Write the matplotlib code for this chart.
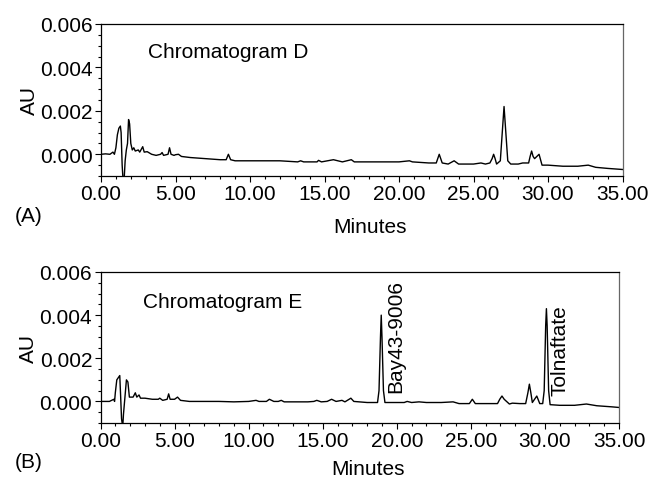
import matplotlib
matplotlib.use("Agg")
import matplotlib.pyplot as plt
from matplotlib.ticker import MultipleLocator, FormatStrFormatter

plt.rcParams['font.family'] = ['Liberation Sans', 'DejaVu Sans']

# Chromatogram D (traced vertices: minutes, AU)
d_time = [0.0, 0.3, 0.6, 0.8, 0.9, 1.0, 1.1, 1.2, 1.3, 1.35, 1.42, 1.48, 1.55, 1.62, 1.7,
          1.78, 1.85, 1.92, 2.0, 2.1, 2.2, 2.3, 2.5, 2.6, 2.8, 2.9, 3.1, 3.4, 3.7, 4.0,
          4.1, 4.2, 4.5, 4.6, 4.7, 4.9, 5.0, 5.2, 5.4, 6.0, 7.0, 8.0, 8.4, 8.55, 8.7,
          9.0, 10.0, 11.0, 12.0, 13.2, 13.4, 13.6, 14.5, 14.6, 14.8, 15.2, 15.6, 15.9,
          16.2, 16.8, 17.0, 18.0, 19.0, 20.0, 20.7, 20.9, 22.0, 22.5, 22.6, 22.7, 22.8,
          22.9, 23.3, 23.7, 24.0, 25.0, 25.5, 25.8, 26.1, 26.25, 26.35, 26.45, 26.55,
          26.8, 26.95, 27.05, 27.15, 27.3, 27.5, 28.0, 28.3, 28.7, 28.8, 28.9, 29.0,
          29.1, 29.25, 29.4, 29.6, 30.0, 31.0, 32.0, 32.7, 33.2, 34.0, 35.0]
d_au = [0.0, 0.00002, 0.0, 0.0001, 0.0, 0.0003, 0.0009, 0.0012, 0.0013, 0.0010, -0.0005,
        -0.0012, -0.0012, -0.0003, 0.0002, 0.0005, 0.0016, 0.0014, 0.0005, 0.0002, 0.0003,
        0.00015, 0.0002, 0.0001, 0.00035, 0.0001, 0.00012, 0.0, -0.00005, 0.0, 0.00008,
        -0.00005, 0.0, 0.0003, 0.0, -0.00005, -0.00002, 0.0, -0.0001, -0.00015, -0.0002,
        -0.00025, -0.00025, 0.0, -0.00025, -0.0003, -0.0003, -0.0003, -0.0003, -0.00035,
        -0.0003, -0.00035, -0.00035, -0.00028, -0.00035, -0.0003, -0.00025, -0.0003,
        -0.00035, -0.00025, -0.00035, -0.00035, -0.00035, -0.00035, -0.0003, -0.00035,
        -0.0004, -0.0004, -0.0002, 0.0, -0.0002, -0.0004, -0.00045, -0.0003, -0.00045,
        -0.00045, -0.0004, -0.00045, -0.0004, -0.0002, 0.0, -0.0002, -0.00045, -0.0003,
        0.0012, 0.0022, 0.0012, -0.0003, -0.00045, -0.00045, -0.0004, -0.0004, -0.0001,
        0.00015, -0.0001, -0.0002, -0.0001, 0.0, -0.0005, -0.0005, -0.00055, -0.00055,
        -0.0005, -0.0006, -0.00065, -0.0007]

# Chromatogram E (traced vertices: minutes, AU)
e_time = [0.0, 0.6, 0.9, 0.95, 1.0, 1.1, 1.2, 1.3, 1.35, 1.42, 1.5, 1.55, 1.65, 1.75, 1.85,
          1.95, 2.1, 2.2, 2.35, 2.45, 2.6, 2.7, 3.0, 3.5, 3.9, 4.0, 4.2, 4.5, 4.6, 4.7, 5.0,
          5.2, 5.4, 6.0, 7.0, 8.0, 9.0, 10.0, 10.5, 10.7, 11.2, 11.4, 11.7, 12.0, 12.2,
          12.4, 14.0, 14.4, 14.6, 14.9, 15.3, 15.6, 15.9, 16.3, 16.5, 16.9, 17.1, 18.0,
          18.7, 18.8, 18.9, 18.95, 19.0, 19.1, 19.2, 19.5, 20.5, 20.7, 21.0, 21.5, 22.0,
          23.0, 23.8, 24.2, 24.9, 25.1, 25.3, 25.8, 26.2, 26.8, 26.95, 27.1, 27.25, 27.6,
          27.8, 28.3, 28.7, 28.85, 28.95, 29.05, 29.15, 29.45, 29.65, 29.85, 29.95, 30.05,
          30.1, 30.15, 30.25, 30.35, 31.0, 32.0, 32.8, 33.5, 34.5, 35.0]
e_au = [0.0, 0.0, 0.0001, 0.0, 0.0004, 0.0010, 0.0011, 0.0012, 0.0004, -0.0008, -0.0012,
        -0.0006, 0.0002, 0.0010, 0.0009, 0.0002, 0.0002, 0.0002, 0.0004, 0.0002, 0.0003,
        0.00015, 0.00015, 0.0001, 0.0001, 0.00015, 0.00005, 0.0001, 0.00035, 0.0001,
        0.0001, 0.0002, 0.00005, 0.0, 0.0, 0.0, -0.00002, 0.0, 0.00005, 0.0, 0.0, 0.0001,
        0.0, 0.0, 0.00005, -0.00002, -0.00002, 0.0, 0.00005, -0.00002, 0.0, 0.0001, 0.0,
        0.00005, -0.00002, 0.00015, 0.0, -0.00005, -0.00005, 0.0005, 0.003, 0.0040, 0.003,
        0.0005, -0.00005, -0.00005, -0.00005, 0.0, -0.00005, -0.00002, -0.00005, -0.00005,
        -0.00002, -0.0001, -0.0001, 0.0001, -0.0001, -0.0001, -0.0001, -0.0001, 0.0001,
        0.00025, 0.0001, -0.00012, -0.00008, -0.0001, -0.0001, 0.0004, 0.0008, 0.0004,
        -0.00005, 0.00025, -0.0001, -0.0001, 0.0005, 0.0035, 0.0043, 0.0035, 0.0005,
        -0.00015, -0.00018, -0.00018, -0.00012, -0.0002, -0.00025, -0.00028]

panel_titles = ["Chromatogram D", "Chromatogram E"]
panel_letters = ["(A)", "(B)"]
peak_names = ["Bay43-9006", "Tolnaftate"]
peak_label_x = [19.9, 31.05]
peak_label_y = [0.00045, 0.00028]

W, H = 652, 481
fig = plt.figure(figsize=(W / 100, H / 100), dpi=100)

def px_axes(l, r, t, b):
    return fig.add_axes([l / W, 1 - b / H, (r - l) / W, (b - t) / H])

ax1 = px_axes(101, 622.5, 25, 177)
ax2 = px_axes(100.5, 619, 273, 424)

FS = 15
for ax, t, y in [(ax1, d_time, d_au), (ax2, e_time, e_au)]:
    ax.plot(t, y, color='black', lw=1.0)
    ax.set_xlim(0, 35)
    ax.set_ylim(-0.001, 0.006)
    ax.xaxis.set_major_locator(MultipleLocator(5))
    ax.xaxis.set_minor_locator(MultipleLocator(1))
    ax.yaxis.set_major_locator(MultipleLocator(0.002))
    ax.yaxis.set_minor_locator(MultipleLocator(0.0005))
    ax.xaxis.set_major_formatter(FormatStrFormatter('%.2f'))
    ax.yaxis.set_major_formatter(FormatStrFormatter('%.3f'))
    ax.tick_params(which='major', direction='out', length=4, width=0.8, labelsize=FS, pad=2)
    ax.tick_params(which='minor', direction='out', length=2.5, width=0.8)
    for s in ax.spines.values():
        s.set_linewidth(0.9)
    ax.spines['right'].set_color('#666666')
    ax.set_ylabel('AU', fontsize=FS, labelpad=1)

fig.text(148 / W, 1 - 52 / H, panel_titles[0], fontsize=FS, va='center', ha='left')
fig.text(143 / W, 1 - 303 / H, panel_titles[1], fontsize=FS, va='center', ha='left')
fig.text(370 / W, 1 - 228 / H, 'Minutes', fontsize=FS, va='center', ha='center')
fig.text(368 / W, 1 - 470 / H, 'Minutes', fontsize=FS, va='center', ha='center')
fig.text(15 / W, 1 - 217 / H, panel_letters[0], fontsize=FS, va='center', ha='left')
fig.text(15 / W, 1 - 462 / H, panel_letters[1], fontsize=FS, va='center', ha='left')

for name, x, y in zip(peak_names, peak_label_x, peak_label_y):
    ax2.text(x, y, name, rotation=90, fontsize=FS, ha='center', va='bottom')

fig.savefig('out.png', dpi=100)
